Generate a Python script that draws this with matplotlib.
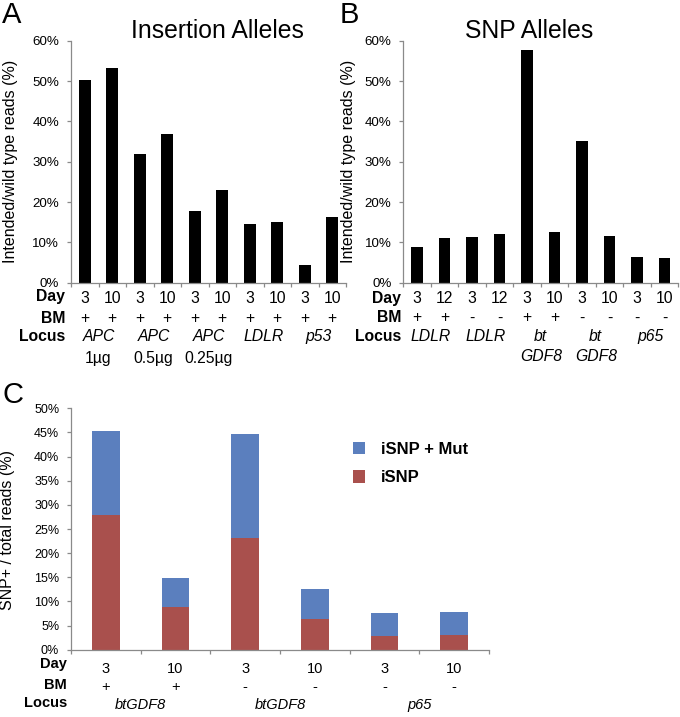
import matplotlib
matplotlib.use('Agg')
import matplotlib.pyplot as plt
from matplotlib.transforms import blended_transform_factory
from matplotlib.ticker import FuncFormatter
from matplotlib.patches import Patch

plt.rcParams['font.family'] = ['Liberation Sans', 'DejaVu Sans']

# ---------------- data ----------------
ins_values = [50.2, 53.2, 32.0, 36.9, 17.9, 23.1, 14.6, 15.1, 4.5, 16.4]
ins_day = ['3', '10', '3', '10', '3', '10', '3', '10', '3', '10']
ins_bm = ['+', '+', '+', '+', '+', '+', '+', '+', '+', '+']
ins_locus = ['APC', 'APC', 'APC', 'LDLR', 'p53']
ins_locus2 = ['1µg', '0.5µg', '0.25µg', '', '']

snp_values = [8.8, 11.0, 11.3, 12.0, 57.6, 12.5, 35.2, 11.7, 6.4, 6.0]
snp_day = ['3', '12', '3', '12', '3', '10', '3', '10', '3', '10']
snp_bm = ['+', '+', '-', '-', '+', '+', '-', '-', '-', '-']
snp_locus = ['LDLR', 'LDLR', 'bt', 'bt', 'p65']
snp_locus2 = ['', '', 'GDF8', 'GDF8', '']

c_isnp = [28.0, 8.8, 23.1, 6.3, 2.8, 3.0]
c_mut = [17.4, 6.0, 21.65, 6.2, 4.7, 4.9]
c_day = ['3', '10', '3', '10', '3', '10']
c_bm = ['+', '+', '-', '-', '-', '-']
c_locus = ['btGDF8', 'btGDF8', 'p65']

# ---------------- layout helpers ----------------
W, H = 680, 717
fig = plt.figure(figsize=(W / 100, H / 100), dpi=100)


def fx(px):
    return px / W


def fy(py):
    return 1 - py / H


SPINE = '#8a8a8a'
BLUE = '#5b7fbe'
RED = '#a9504d'


def make_axes(left, right, top, bottom):
    return fig.add_axes([fx(left), fy(bottom), (right - left) / W, (bottom - top) / H])


def style(ax, n, ymax, step, fs):
    ax.set_xlim(-0.5, n - 0.5)
    ax.set_ylim(0, ymax)
    for s in ['top', 'right']:
        ax.spines[s].set_visible(False)
    for s in ['left', 'bottom']:
        ax.spines[s].set_color(SPINE)
        ax.spines[s].set_linewidth(0.9)
    ax.set_xticks([i - 0.5 for i in range(n + 1)])
    ax.set_xticklabels([])
    ax.set_yticks(list(range(0, ymax + 1, step)))
    ax.yaxis.set_major_formatter(FuncFormatter(lambda v, _: f'{v:.0f}%'))
    ax.tick_params(axis='both', direction='out', length=3, width=0.9, color=SPINE)
    ax.tick_params(axis='y', labelsize=fs, pad=5.5)


def rows(ax, day, bm, locus, locus2, lab_x, ys, fs):
    tr = blended_transform_factory(ax.transData, fig.transFigure)
    y_day, y_bm, y_loc, y_loc2, y_lab_day, y_lab_bm, y_lab_loc = ys
    for i, (d, b) in enumerate(zip(day, bm)):
        ax.text(i, fy(y_day), d, transform=tr, ha='center', va='center', fontsize=fs)
        ax.text(i, fy(y_bm), b, transform=tr, ha='center', va='center', fontsize=fs)
    for j, (l1, l2) in enumerate(zip(locus, locus2)):
        xc = 2 * j + 0.5
        ax.text(xc, fy(y_loc), l1, transform=tr, ha='center', va='center',
                fontsize=fs, style='italic')
        if l2:
            ax.text(xc, fy(y_loc2), l2, transform=tr, ha='center', va='center',
                    fontsize=fs, style='italic' if l2 == 'GDF8' else 'normal')
    fig.text(fx(lab_x), fy(y_lab_day), 'Day', ha='right', va='center', fontsize=fs, fontweight='bold')
    fig.text(fx(lab_x), fy(y_lab_bm), 'BM', ha='right', va='center', fontsize=fs, fontweight='bold')
    fig.text(fx(lab_x), fy(y_lab_loc), 'Locus', ha='right', va='center', fontsize=fs, fontweight='bold')


# ---------------- panel A ----------------
axA = make_axes(71, 346, 40.7, 282.7)
style(axA, len(ins_values), 60, 10, 9.6)
axA.bar(range(len(ins_values)), ins_values, width=0.42, color='black')
axA.set_ylabel('Intended/wild type reads (%)', fontsize=11.5)
axA.yaxis.set_label_coords(fx(18), fy(161), transform=fig.transFigure)
fig.text(fx(217), fy(31), 'Insertion Alleles', ha='center', va='center', fontsize=17.8)
fig.text(fx(2), fy(15), 'A', ha='left', va='center', fontsize=21)
rows(axA, ins_day, ins_bm, ins_locus, ins_locus2, 65,
     (298.5, 319, 337, 359, 297, 318.5, 337), 11.3)

# ---------------- panel B ----------------
axB = make_axes(403.3, 678.3, 40.7, 282.7)
style(axB, len(snp_values), 60, 10, 9.6)
axB.bar(range(len(snp_values)), snp_values, width=0.42, color='black')
axB.set_ylabel('Intended/wild type reads (%)', fontsize=11.5)
axB.yaxis.set_label_coords(fx(356), fy(161), transform=fig.transFigure)
fig.text(fx(529), fy(31), 'SNP Alleles', ha='center', va='center', fontsize=17.8)
fig.text(fx(340), fy(15), 'B', ha='left', va='center', fontsize=21)
rows(axB, snp_day, snp_bm, snp_locus, snp_locus2, 401,
     (298.5, 318, 337, 356.5, 298, 318, 337), 11.3)

# ---------------- panel C ----------------
axC = make_axes(71, 489, 408.3, 649.7)
style(axC, len(c_isnp), 50, 5, 9)
xs = range(len(c_isnp))
axC.bar(xs, c_isnp, width=0.4, color=RED)
axC.bar(xs, c_mut, bottom=c_isnp, width=0.4, color=BLUE)
axC.set_ylabel('SNP+ / total reads (%)', fontsize=11.5)
axC.yaxis.set_label_coords(fx(15), fy(530), transform=fig.transFigure)
fig.text(fx(2), fy(395), 'C', ha='left', va='center', fontsize=21)
rows(axC, c_day, c_bm, c_locus, ['', '', ''], 67,
     (669, 687, 705, 0, 664, 685, 703), 10.5)
handles = [Patch(facecolor=BLUE, label='iSNP + Mut'), Patch(facecolor=RED, label='iSNP')]
leg = fig.legend(handles=handles, loc='upper left', bbox_to_anchor=(fx(352.5), fy(441.5)),
                 frameon=False, prop={'weight': 'bold', 'size': 12},
                 handlelength=0.75, handleheight=0.8, handletextpad=0.95,
                 labelspacing=0.8, borderpad=0, borderaxespad=0)

fig.savefig('out.png', dpi=100)
